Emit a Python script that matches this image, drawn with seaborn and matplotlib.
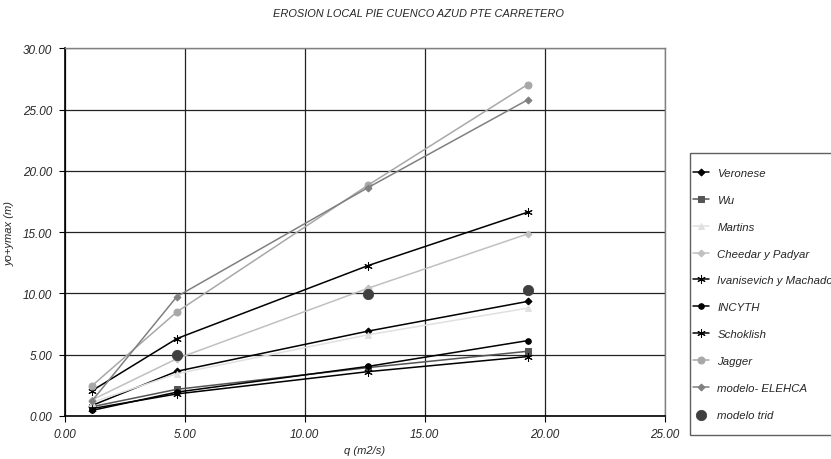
import matplotlib
matplotlib.use("Agg")
import matplotlib.pyplot as plt
from matplotlib.patches import Rectangle
import numpy as np
import pandas as pd
import seaborn as sns

# caudales especificos q (m2/s)
q = [1.12, 4.67, 12.64, 19.28]

veronese = [0.85, 3.65, 6.93, 9.35]
wu = [0.75, 2.18, 3.95, 5.28]
martins = [1.10, 3.45, 6.63, 8.80]
cheedar = [1.30, 4.68, 10.43, 14.86]
ivanisevich = [2.05, 6.32, 12.28, 16.63]
incyth = [0.45, 1.95, 4.05, 6.15]
schoklish = [0.60, 1.80, 3.62, 4.85]
jagger = [2.45, 8.50, 18.85, 27.05]
elehca = [1.20, 9.75, 18.65, 25.80]
trid = [np.nan, 5.00, 9.97, 10.27]

series = [
    ("Veronese", veronese, "#000000", "D", 3.5),
    ("Wu", wu, "#555555", "s", 4.5),
    ("Martins", martins, "#e0e0e0", "^", 4.5),
    ("Cheedar y Padyar", cheedar, "#c0c0c0", "D", 3.5),
    ("Ivanisevich y Machado", ivanisevich, "#000000", (6, 2, 0), 6),
    ("INCYTH", incyth, "#000000", "o", 4),
    ("Schoklish", schoklish, "#000000", (6, 2, 0), 6),
    ("Jagger", jagger, "#a8a8a8", "o", 5),
    ("modelo- ELEHCA", elehca, "#808080", "D", 3.5),
]

sns.set_style("white")
plt.rcParams["font.family"] = ["Liberation Sans", "DejaVu Sans"]
plt.rcParams["font.style"] = "italic"

W, H = 831, 460
fig = plt.figure(figsize=(W / 100, H / 100), dpi=100)
ax = fig.add_axes([0.078, 0.0935, 0.722, 0.799])

for name, vals, col, mk, ms in series:
    df = pd.DataFrame({"q": q, "y": vals})
    sns.lineplot(data=df, x="q", y="y", ax=ax, color=col, marker=mk,
                 markersize=ms, markeredgecolor=col, linewidth=1.1, label=name)

df_t = pd.DataFrame({"q": q, "y": trid}).dropna()
sns.scatterplot(data=df_t, x="q", y="y", ax=ax, color="#404040", s=55,
                edgecolor="#404040", label="modelo trid", zorder=5)

ax.set_xlim(0, 25)
ax.set_ylim(0, 30)
ax.set_xticks(np.arange(0, 26, 5))
ax.set_yticks(np.arange(0, 31, 5))
ax.set_xticklabels([f"{v:.2f}" for v in np.arange(0, 26, 5)], fontsize=8.5, style="italic")
ax.set_yticklabels([f"{v:.2f}" for v in np.arange(0, 31, 5)], fontsize=8.5, style="italic")
ax.grid(True, color="#222222", linewidth=0.9)
ax.set_axisbelow(True)
ax.tick_params(axis="both", direction="out", length=4, width=0.8, color="black", pad=5)
ax.xaxis.set_ticks_position("bottom")
ax.yaxis.set_ticks_position("left")
for side in ["left", "bottom"]:
    ax.spines[side].set_color("black")
    ax.spines[side].set_linewidth(1.2)
for side in ["top", "right"]:
    ax.spines[side].set_color("#808080")
    ax.spines[side].set_linewidth(1.0)

ax.set_xlabel("q (m2/s)", fontsize=8, style="italic", labelpad=3)
ax.set_ylabel("yo+ymax (m)", fontsize=8, style="italic", labelpad=6)
fig.text(0.504, 0.97, "EROSION LOCAL PIE CUENCO AZUD PTE CARRETERO",
         ha="center", va="center", fontsize=7.9, style="italic")

# legend box (runs past the right edge like the original)
fig.patches.append(Rectangle((690 / W, 1 - 436 / H), 160 / W, 282 / H,
                             transform=fig.transFigure, facecolor="white",
                             edgecolor="#606060", linewidth=1.0, zorder=-1))

leg = ax.legend(loc="upper left", bbox_to_anchor=(693 / W, 1 - 169 / H),
                bbox_transform=fig.transFigure, frameon=False, fontsize=8.2,
                labelspacing=1.48, handlelength=1.4, handletextpad=0.75,
                borderpad=0, borderaxespad=0)
for t in leg.get_texts():
    t.set_style("italic")

fig.savefig("out.png", dpi=100)
